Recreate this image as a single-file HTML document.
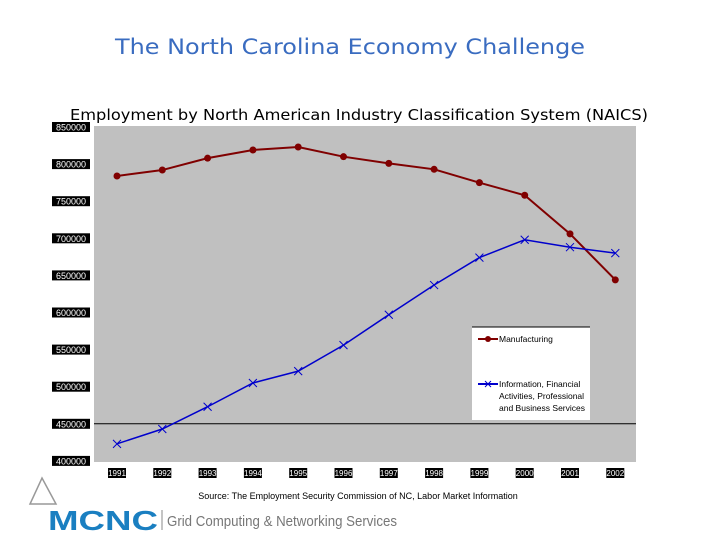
<!DOCTYPE html>
<html><head><meta charset="utf-8"><style>
body{margin:0;width:720px;height:540px;background:#fff;overflow:hidden;font-family:"DejaVu Sans","Liberation Sans",sans-serif}
</style></head><body>
<svg width="720" height="540">
<text x="350" y="54" text-anchor="middle" font-size="21" fill="#3a6cc0" font-family="DejaVu Sans, sans-serif" textLength="470" lengthAdjust="spacingAndGlyphs">The North Carolina Economy Challenge</text>
<text x="359" y="120" text-anchor="middle" font-size="15" fill="#000" font-family="DejaVu Sans, sans-serif" textLength="578" lengthAdjust="spacingAndGlyphs">Employment by North American Industry Classification System (NAICS)</text>
<rect x="94" y="126" width="542" height="336" fill="#c0c0c0"/>
<g id="yaxis"></g><g id="xaxis"></g><g id="series"></g>
<g>
<rect x="472" y="327" width="118" height="93" fill="#fff"/>
<line x1="472" y1="327" x2="590" y2="327" stroke="#000"/>
<line x1="478" y1="339" x2="498" y2="339" stroke="#800000" stroke-width="2"/><circle cx="488" cy="339" r="3" fill="#800000"/>
<text x="499" y="342" font-size="8.5" font-family="Liberation Sans, sans-serif">Manufacturing</text>
<line x1="478" y1="384" x2="498" y2="384" stroke="#0000cc" stroke-width="2"/><path d="M485 381l6 6M491 381l-6 6" stroke="#0000cc"/>
<text font-size="8.5" font-family="Liberation Sans, sans-serif"><tspan x="499" y="387">Information, Financial</tspan><tspan x="499" y="399">Activities, Professional</tspan><tspan x="499" y="411">and Business Services</tspan></text>
</g>
<text x="358" y="499" text-anchor="middle" font-size="9" font-family="Liberation Sans, sans-serif">Source:  The Employment Security Commission of NC, Labor Market Information</text>
<g>
<path d="M42 478 L56 504 L30 504 Z" fill="none" stroke="#999" stroke-width="1.5"/>
<text x="48" y="530" font-size="28" font-weight="bold" fill="#1a7fc1" font-family="Liberation Sans, sans-serif" textLength="110" lengthAdjust="spacingAndGlyphs">MCNC</text>
<line x1="162" y1="510" x2="162" y2="530" stroke="#888"/>
<text x="167" y="526" font-size="15" fill="#777" font-family="Liberation Sans, sans-serif" textLength="230" lengthAdjust="spacingAndGlyphs">Grid Computing &amp; Networking Services</text>
</g>
</svg>
<script>
const years=["1991","1992","1993","1994","1995","1996","1997","1998","1999","2000","2001","2002"];
const manufacturing=[784000,792000,808000,819000,823000,810000,801000,793000,775000,758000,706000,644000];
const information=[423000,443000,473000,505000,521000,556000,597000,637000,674000,698000,688000,680000];
const yTicks=[400000,450000,500000,550000,600000,650000,700000,750000,800000,850000];
const NS="http://www.w3.org/2000/svg";
const xs=i=>117+i*45.3;
const ys=v=>127+(850000-v)/50000*37.1;
function mk(t,a,p){const e=document.createElementNS(NS,t);for(const k in a)e.setAttribute(k,a[k]);p.appendChild(e);return e;}
const ya=document.getElementById('yaxis'),xa=document.getElementById('xaxis'),sg=document.getElementById('series');
yTicks.forEach(v=>{const g=mk('g',{},ya);


mk('rect',{x:52,y:ys(v)-5,width:38,height:10,fill:'#000'},g);
const t=mk('text',{x:71,y:ys(v)+3.5,'text-anchor':'middle','font-size':9,fill:'#fff','font-family':'Liberation Sans Narrow, Liberation Sans, sans-serif'},g);t.textContent=v;});
mk('line',{x1:94,y1:ys(450000),x2:636,y2:ys(450000),stroke:'#000'},ya);
years.forEach((y,i)=>{const g=mk('g',{},xa);


mk('rect',{x:xs(i)-9,y:468,width:18,height:10,fill:'#000'},g);
const t=mk('text',{x:xs(i),y:476,'text-anchor':'middle','font-size':8,fill:'#fff','font-family':'Liberation Sans, sans-serif'},g);t.textContent=y;});
const mp=mk('polyline',{points:manufacturing.map((v,i)=>xs(i)+','+ys(v)).join(' '),fill:'none',stroke:'#800000','stroke-width':2},sg);


manufacturing.forEach((v,i)=>{const c=mk('circle',{cx:xs(i),cy:ys(v),r:3.5,fill:'#800000'},sg);

});
const ip=mk('polyline',{points:information.map((v,i)=>xs(i)+','+ys(v)).join(' '),fill:'none',stroke:'#0000cc','stroke-width':1.5},sg);


information.forEach((v,i)=>{const x=xs(i),y=ys(v);const p=mk('path',{d:`M${x-4} ${y-4}L${x+4} ${y+4}M${x+4} ${y-4}L${x-4} ${y+4}`,stroke:'#0000cc','stroke-width':1},sg);

});
</script>
</body></html>
